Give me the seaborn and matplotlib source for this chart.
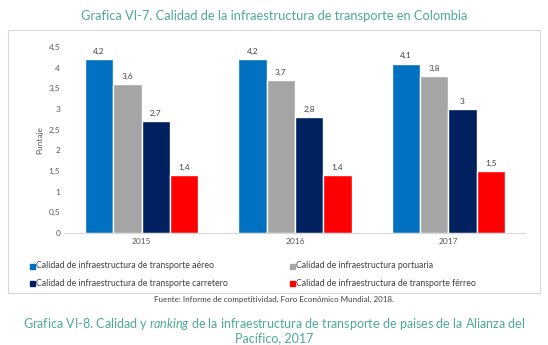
import pandas as pd
import numpy as np
import matplotlib.pyplot as plt
import seaborn as sns
from matplotlib.patches import Rectangle

sns.set_style("white")
plt.rcParams['font.family'] = ['Lato', 'DejaVu Sans']
plt.rcParams['mathtext.fontset'] = 'custom'
plt.rcParams['mathtext.it'] = 'Lato:italic'
plt.rcParams['mathtext.rm'] = 'Lato'

years = ['2015', '2016', '2017']
series = ['Calidad de infraestructura de transporte aéreo',
          'Calidad de infraestructura portuaria',
          'Calidad de infraestructura de transporte carretero',
          'Calidad de infraestructura de transporte férreo']
aereo = [4.2, 4.2, 4.1]
portuaria = [3.6, 3.7, 3.8]
carretero = [2.7, 2.8, 3.0]
ferreo = [1.4, 1.4, 1.5]
colors = ['#0070C0', '#A5A5A5', '#002060', '#FF0000']

rows = []
for name, vals in zip(series, [aereo, portuaria, carretero, ferreo]):
    for y, v in zip(years, vals):
        rows.append({'year': y, 'serie': name, 'valor': v})
df = pd.DataFrame(rows)

fig = plt.figure(figsize=(5.48, 3.45), dpi=100)
# chart frame
fig.patches.append(Rectangle((8/548, 1-293/345), 532/548, 263/345, transform=fig.transFigure,
                             fill=False, edgecolor='#d9d9d9', linewidth=0.8))
ax = fig.add_axes([65/548, 1-233/345, 460/548, 186/345])
sns.barplot(data=df, x='year', y='valor', hue='serie', palette=colors, width=0.74,
            saturation=1, ax=ax, legend=False)
ax.set_ylim(0, 4.5)
ax.set_yticks(np.arange(0, 4.51, 0.5))
ax.set_yticklabels(['0', '0,5', '1', '1,5', '2', '2,5', '3', '3,5', '4', '4,5'])
ax.tick_params(axis='both', labelsize=6, colors='#595959', length=0)
ax.set_xlabel('')
ax.set_ylabel('Puntaje', fontsize=6, color='#595959')
for s in ['top', 'right', 'left']:
    ax.spines[s].set_visible(False)
ax.spines['bottom'].set_color('#d9d9d9')

for cont in ax.containers:
    labels = [('%g' % b.get_height()).replace('.', ',') for b in cont]
    ax.bar_label(cont, labels=labels, fontsize=6, color='#404040', padding=3)

# legend
leg_pos = [(30, 266), (290, 266), (30, 283), (290, 283)]
for (lx, ly), c, name in zip(leg_pos, colors, series):
    fig.patches.append(Rectangle((lx/548, 1-(ly+3)/345), 5/548, 5/345, transform=fig.transFigure,
                                 color=c))
    fig.text((lx+6)/548, 1-ly/345, name, fontsize=6.3, color='#404040', va='center')

fig.text(0.5, 1-16/345, 'Grafica VI-7. Calidad de la infraestructura de transporte en Colombia',
         ha='center', va='center', fontsize=9.3, color='#4fa89a')
fig.text(0.5, 1-299/345, 'Fuente: Informe de competitividad, Foro Económico Mundial, 2018.',
         ha='center', va='center', fontsize=5.8, color='#404040')
fig.text(0.5, 1-330/345,
         'Grafica VI-8. Calidad y $ranking$ de la infraestructura de transporte de paises de la Alianza del\nPacífico, 2017',
         ha='center', va='center', fontsize=9, color='#4fa89a', linespacing=0.95)

fig.savefig('out.png', dpi=100)
